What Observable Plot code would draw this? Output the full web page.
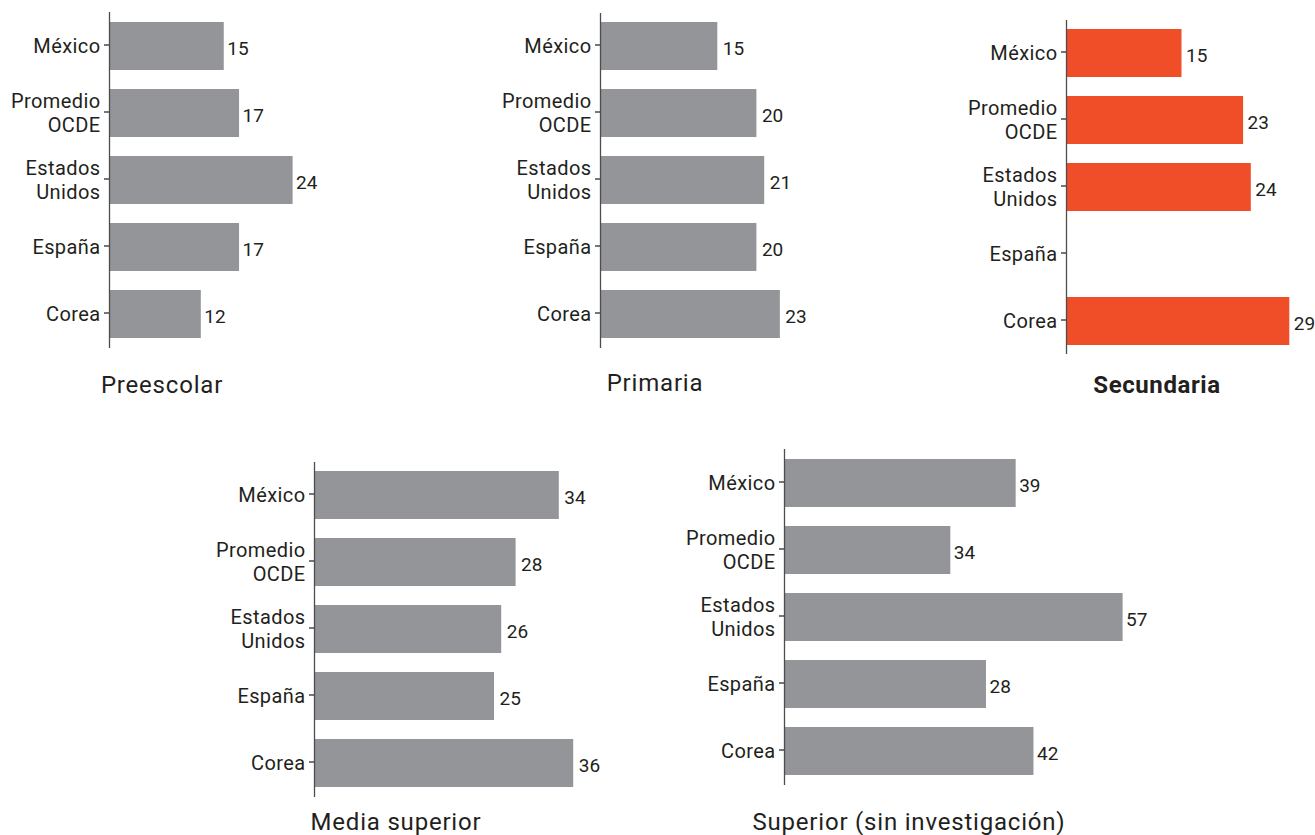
<!DOCTYPE html>
<html>
<head>
<meta charset="utf-8">
<script src="https://cdn.jsdelivr.net/npm/d3@7"></script>
<script src="https://cdn.jsdelivr.net/npm/@observablehq/plot@0.6"></script>
<style>
  html, body { margin: 0; padding: 0; background: #fff; }
  #chart { position: relative; width: 1315px; height: 835px; font-family: Roboto, "Noto Sans", sans-serif; color: #231f20; }
  .panel { position: absolute; }
  .panel svg g[aria-label="y-axis tick label"] text { letter-spacing: 0.4px; }
  .title { position: absolute; transform: translate(-50%, -50%); font-size: 24px; letter-spacing: 0.8px; white-space: nowrap; color: #231f20; }
  .title.bold { font-weight: 700; letter-spacing: 0.6px; }
</style>
</head>
<body>
<div id="chart"></div>
<script>
// ---- data ----
const categories = ["México", "Promedio OCDE", "Estados Unidos", "España", "Corea"];

const preescolarValues = [15, 17, 24, 17, 12];
const primariaValues   = [15, 20, 21, 20, 23];
const secundariaValues = [15, 23, 24, null, 29];
const mediaValues      = [34, 28, 26, 25, 36];
// bar lengths as drawn in the reference
const superiorValues   = [39, 28, 57, 34, 42];
// value labels as printed in the reference (Promedio OCDE / España labels are swapped there)
const superiorLabels   = ["39", "34", "57", "28", "42"];

const panelTitles = ["Preescolar", "Primaria", "Secundaria", "Media superior", "Superior (sin investigación)"];

const GRAY = "#939598";
const ORANGE = "#f04e29";

// ---- layout ----
const panels = [
  {values: preescolarValues, labels: null, title: panelTitles[0], color: GRAY,
   left: 0, top: 0, width: 330, height: 360, ml: 109, mt: 12, mb: 12, k: 7.65, dx: 3, tx: 162, ty: 385, bold: false},
  {values: primariaValues, labels: null, title: panelTitles[1], color: GRAY,
   left: 490, top: 0, width: 330, height: 360, ml: 110, mt: 13, mb: 12, k: 7.82, dx: 5, tx: 655, ty: 383, bold: false},
  {values: secundariaValues, labels: null, title: panelTitles[2], color: ORANGE,
   left: 950, top: 0, width: 365, height: 366, ml: 116, mt: 20, mb: 12, k: 7.7, dx: 4, tx: 1157, ty: 385, bold: true},
  {values: mediaValues, labels: null, title: panelTitles[3], color: GRAY,
   left: 200, top: 450, width: 400, height: 360, ml: 114, mt: 12, mb: 13, k: 7.2, dx: 5, tx: 396, ty: 822, bold: false},
  {values: superiorValues, labels: superiorLabels, title: panelTitles[4], color: GRAY,
   left: 660, top: 440, width: 480, height: 360, ml: 124, mt: 9, mb: 15, k: 5.94, dx: 3, tx: 909, ty: 822, bold: false}
];

const chart = document.getElementById("chart");

for (const p of panels) {
  const rows = categories.map((c, i) => ({
    cat: c,
    value: p.values[i],
    label: p.values[i] == null ? "" : (p.labels ? p.labels[i] : String(p.values[i]))
  }));
  const maxX = (p.width - p.ml) / p.k;
  const svg = Plot.plot({
    width: p.width,
    height: p.height,
    marginLeft: p.ml,
    marginRight: 0,
    marginTop: p.mt,
    marginBottom: p.mb,
    style: {fontFamily: "Roboto, 'Noto Sans', sans-serif", fontSize: "20px", color: "#231f20", background: "transparent", overflow: "visible"},
    x: {domain: [0, maxX], range: [p.ml, p.width], axis: null},
    y: {domain: categories, paddingInner: 0.277, paddingOuter: 0.11, axis: null},
    marks: [
      Plot.barX(rows.filter(d => d.value != null), {x: "value", y: "cat", fill: p.color}),
      Plot.ruleX([0], {stroke: "#4d4d4f", strokeWidth: 1.3}),
      Plot.axisY({
        label: null,
        tickSize: 5,
        tickPadding: 4,
        fontSize: 20,
        lineHeight: 1.2,
        stroke: "#3d3d3f",
        strokeWidth: 1.4,
        tickFormat: d => d.replace(" ", "\n"),
        dy: -1.5
      }),
      Plot.text(rows.filter(d => d.value != null), {
        x: "value", y: "cat", text: "label",
        textAnchor: "start", dx: p.dx, dy: 2,
        fontSize: 19, fill: "#231f20"
      })
    ]
  });
  const div = document.createElement("div");
  div.className = "panel";
  div.style.left = p.left + "px";
  div.style.top = p.top + "px";
  div.appendChild(svg);
  chart.appendChild(div);

  const t = document.createElement("div");
  t.className = "title" + (p.bold ? " bold" : "");
  t.style.left = p.tx + "px";
  t.style.top = p.ty + "px";
  t.textContent = p.title;
  chart.appendChild(t);
}
</script>
</body>
</html>
